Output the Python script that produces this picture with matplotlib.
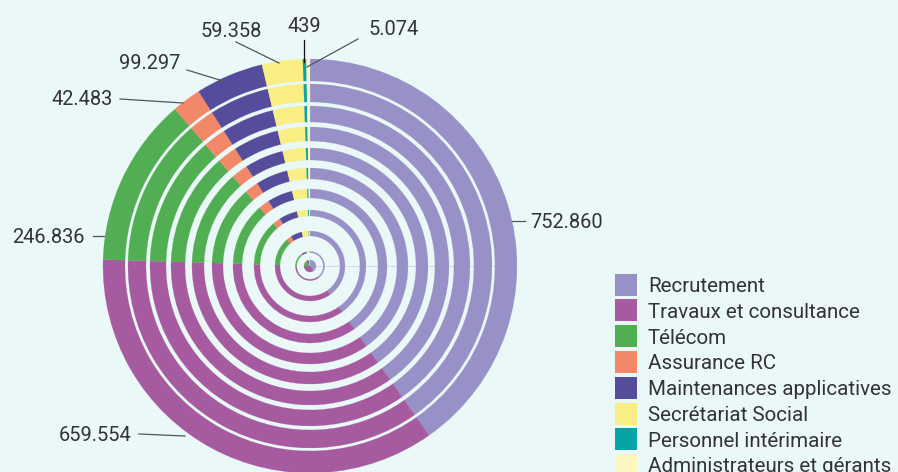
import matplotlib
matplotlib.use("Agg")
import matplotlib.pyplot as plt
from matplotlib.patches import Wedge, Rectangle
import numpy as np

# ---------------- data ----------------
categories = ["Recrutement", "Travaux et consultance", "Télécom", "Assurance RC",
              "Maintenances applicatives", "Secrétariat Social", "Personnel intérimaire",
              "Administrateurs et gérants"]
values = [752860, 659554, 246836, 42483, 99297, 59358, 439, 5074]
value_labels = ["752.860", "659.554", "246.836", "42.483", "99.297", "59.358", "439", "5.074"]

# ---------------- style ----------------
colors = ["#9891c7", "#a65ba1", "#52ae52", "#f28868", "#564c9c", "#f9ee84", "#04a6a5", "#fdf6c2"]
bg = "#eaf8f8"
W, H = 898, 472
cx, cy_img = 310, 266
cy = H - cy_img
# ring radii (inner, outer) in px
rings = [(0, 6), (13.3, 14.6), (30, 35), (50, 56), (68, 77), (87, 98), (106, 118),
         (125, 139), (144, 160), (164, 182), (185, 207)]
min_angle = 1.0

# label layout: text anchor (x, y_center, ha) and leader line (image px)
label_text = [(530, 221, "left"), (132, 434, "right"), (85, 236, "right"), (113, 98, "right"),
              (180, 62, "right"), (262, 30, "right"), (304, 25, "center"), (369, 28, "left")]
label_line = [((512, 221), (525, 221)), ((139, 434), (185, 436)), ((93, 236), (104, 236)),
              ((120, 99), (183, 103)), ((187, 70), (223, 81)), ((236, 42), (279, 63)),
              ((304, 40), (304, 62)), ((358, 39), (307, 67))]
line_colors = ["#555555", "#555555", "#555555", "#555555", "#555555", "#555555", "#111111", "#555555"]

FONT = "Roboto"
fs_label = 14.4
fs_leg = 14.8

# ---------------- angles (with min angle) ----------------
vals = np.array(values, dtype=float)
raw = vals / vals.sum() * 360.0
small = raw < min_angle
ang = raw.copy()
ang[small] = min_angle
rest = 360.0 - small.sum() * min_angle
ang[~small] = raw[~small] / raw[~small].sum() * rest

fig = plt.figure(figsize=(W / 100, H / 100), dpi=100)
fig.patch.set_facecolor(bg)
ax = fig.add_axes([0, 0, 1, 1])
ax.set_xlim(0, W)
ax.set_ylim(0, H)
ax.set_aspect("equal")
ax.axis("off")
ax.set_facecolor(bg)

# faint radial axis line
ax.plot([cx, cx + 186], [cy, cy], color="#d6d3ee", lw=0.7, zorder=1)

for (r0, r1) in rings:
    start = 90.0
    for a, c in zip(ang, colors):
        end = start - a
        w = Wedge((cx, cy), r1, end, start, width=(r1 - r0) if r0 > 0 else None,
                  facecolor=c, edgecolor=c, lw=0.15, zorder=2)
        ax.add_patch(w)
        start = end

# labels
for i, txt in enumerate(value_labels):
    tx, ty, ha = label_text[i]
    (x0, y0), (x1, y1) = label_line[i]
    ax.plot([x0, x1], [H - y0, H - y1], color=line_colors[i], lw=0.9, zorder=3)
    ax.text(tx, H - (ty + 7.2), txt, ha=ha, va="baseline", fontsize=fs_label,
            family=FONT, color="#333333", zorder=4)

# legend
leg_x, leg_y0, leg_dy, sw = 615, 273.5, 25.8, 22
for i, (name, c) in enumerate(zip(categories, colors)):
    top = leg_y0 + i * leg_dy
    ax.add_patch(Rectangle((leg_x, H - top - sw), sw, sw, facecolor=c, edgecolor="none", zorder=3))
    ax.text(648, H - (top + sw / 2 + 7.4), name, ha="left", va="baseline",
            fontsize=fs_leg, family=FONT, color="#333333", zorder=4)

fig.savefig("out.png", dpi=100, facecolor=bg)
